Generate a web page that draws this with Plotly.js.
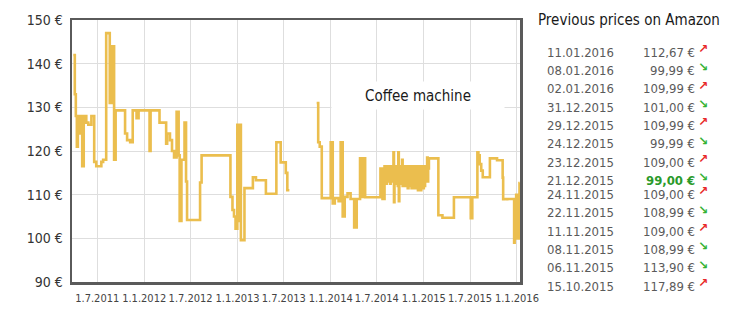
<!DOCTYPE html>
<html><head><meta charset="utf-8">
<script src="https://cdn.plot.ly/plotly-3.0.1.min.js"></script>
<style>html,body{margin:0;padding:0;background:#fff;}#chart{width:745px;height:313px;}</style>
</head><body><div id="chart"></div>
<script>
// Price history, part 1 (2011 - mid 2013)
const seg1Dates = [
 '2011-03-29','2011-04-04','2011-04-08','2011-04-12','2011-04-16','2011-04-22','2011-04-26','2011-05-03','2011-05-09','2011-05-19',
 '2011-05-27','2011-06-08','2011-06-19','2011-06-27','2011-07-17','2011-07-24','2011-08-05','2011-08-19','2011-08-29','2011-09-05',
 '2011-09-11','2011-10-18','2011-10-26','2011-11-07','2011-11-17','2011-12-02','2011-12-10','2012-01-22','2012-01-26','2012-03-01',
 '2012-03-27','2012-03-31','2012-04-11','2012-04-19','2012-04-27','2012-05-07','2012-05-15','2012-05-19','2012-05-26','2012-06-07',
 '2012-06-13','2012-06-17','2012-08-07','2012-08-13','2012-12-04','2012-12-12','2012-12-18','2012-12-24','2012-12-31','2013-01-06',
 '2013-01-10','2013-01-14','2013-01-28','2013-03-02','2013-03-14','2013-04-22','2013-06-02','2013-06-19','2013-07-09','2013-07-15',
 '2013-07-23'
];
const seg1Values = [
 142,133,128,121,128,124,128,116.5,128,126.5,
 126,128,117.5,116.5,117.5,118,147,131,144,118,
 129.3,124,122.5,122,129.3,127.5,129.3,120,129.3,126.5,
 121.7,124,122.5,120,118.5,129,119,104,118,126.5,
 113,104.2,112.8,119,109.5,106.5,105,102.2,126,104,
 126,99.6,111.5,114,113.3,110.2,122,117.4,115,111,
 111
];
// Part 2 (after the data gap, late 2013 - Jul 2014)
const seg2Dates = [
 '2013-11-07','2013-11-13','2013-11-19','2013-11-27','2014-01-01','2014-01-09','2014-01-17','2014-02-01','2014-02-09','2014-02-17',
 '2014-02-25','2014-03-08','2014-03-20','2014-04-03','2014-04-13','2014-04-26','2014-05-02','2014-05-08','2014-05-16','2014-07-15',
 '2014-07-23','2014-07-31'
];
const seg2Values = [
 131,122,121,109.2,122,108,109.2,108.5,122,105,
 109.5,110.3,109,102.5,109,118.3,109.5,118.3,109.4,116,
 109,116.5
];
// Part 3 (dense fluctuation, Aug 2014 - Jan 2015)
const seg3Dates = [
 '2014-08-02','2014-08-04','2014-08-07','2014-08-09','2014-08-12','2014-08-14','2014-08-17','2014-08-19','2014-08-22','2014-08-24',
 '2014-08-27','2014-08-29','2014-09-01','2014-09-04','2014-09-06','2014-09-08','2014-09-11','2014-09-13','2014-09-16','2014-09-18',
 '2014-09-21','2014-09-23','2014-09-25','2014-09-27','2014-09-30','2014-10-02','2014-10-05','2014-10-08','2014-10-10','2014-10-13',
 '2014-10-15','2014-10-18','2014-10-20','2014-10-23','2014-10-25','2014-10-28','2014-10-30','2014-11-02','2014-11-04','2014-11-07',
 '2014-11-09','2014-11-12','2014-11-14','2014-11-17','2014-11-19','2014-11-22','2014-11-24','2014-11-27','2014-11-29','2014-12-02',
 '2014-12-04','2014-12-07','2014-12-09','2014-12-12','2014-12-14','2014-12-17','2014-12-19','2014-12-22','2014-12-24','2014-12-27',
 '2014-12-29','2015-01-01','2015-01-03','2015-01-06','2015-01-08','2015-01-11','2015-01-14','2015-01-16','2015-01-18'
];
const seg3Values = [
 113.5,116.5,112.5,116,113,116.5,113.5,116,112.5,116.5,
 113,116,113.5,119.7,108.3,116.5,112.5,116,113,116.5,
 112,119.7,108.5,116,112.5,116.5,113,118,112,116.5,
 112.5,116,112,116.5,113,116,111.5,116.5,112,116,
 112.5,116.5,111.5,116,112,116.5,111.5,116,112,116.5,
 111.5,116,111,116.5,111.5,116,111,116.5,112,116,
 111.5,116.5,112,116,113,116.5,118.5,113,116
];
// Part 4 (2015 - Jan 2016)
const seg4Dates = [
 '2015-01-21','2015-02-27','2015-03-15','2015-04-29','2015-07-04','2015-07-10','2015-07-30','2015-08-03','2015-08-08','2015-08-14',
 '2015-08-20','2015-09-17','2015-10-15','2015-11-06','2015-11-08','2015-11-11','2015-11-22','2015-11-24','2015-12-21','2015-12-23',
 '2015-12-24','2015-12-29','2015-12-31','2016-01-02','2016-01-08','2016-01-11','2016-01-12'
];
const seg4Values = [
 118.3,105.3,104.7,109.4,104.6,109.4,119.7,119,117,115.5,
 114,118.3,117.89,113.90,108.99,109.00,108.99,109.00,99.00,109.00,
 99.99,109.99,101.00,109.99,99.99,112.67,112.67
];

// Axis ticks
const xTickVals = ['2011-07-01','2012-01-01','2012-07-01','2013-01-01','2013-07-01','2014-01-01','2014-07-01','2015-01-01','2015-07-01','2016-01-01'];
const xTickText = ['1.7.2011','1.1.2012','1.7.2012','1.1.2013','1.7.2013','1.1.2014','1.7.2014','1.1.2015','1.7.2015','1.1.2016'];
const yTickVals = [90,100,110,120,130,140,150];
const yTickText = ['90 €','100 €','110 €','120 €','130 €','140 €','150 €'];

// Side table
const tableTitle = 'Previous prices on Amazon';
const chartLabel = 'Coffee machine';
const tableDates = ['11.01.2016','08.01.2016','02.01.2016','31.12.2015','29.12.2015','24.12.2015','23.12.2015','21.12.2015','24.11.2015','22.11.2015','11.11.2015','08.11.2015','06.11.2015','15.10.2015'];
const tablePrices = [112.67,99.99,109.99,101.00,109.99,99.99,109.00,99.00,109.00,108.99,109.00,108.99,113.90,117.89];
const tableTrend = ['up','down','up','down','up','down','up','down','up','down','up','down','down','up'];

const FONT = '"DejaVu Sans Condensed", "Liberation Sans Narrow", "DejaVu Sans", sans-serif';
const L = 72, R = 520, T = 20, B = 282;
const px2x = p => (p - L) / (R - L);
const px2y = p => (B - p) / (B - T);

const lowIdx = tablePrices.indexOf(Math.min(...tablePrices));
const annotations = [];
annotations.push({xref:'paper', yref:'paper', x:px2x(418), y:px2y(95.5), xanchor:'center', yanchor:'middle',
  text:chartLabel, showarrow:false, bgcolor:'#ffffff', width:170, height:25,
  font:{family:FONT, size:15, color:'#1a1a1a'}});
annotations.push({xref:'paper', yref:'paper', x:px2x(536), y:px2y(20), xanchor:'left', yanchor:'middle',
  text:tableTitle, showarrow:false, font:{family:FONT, size:15, color:'#1a1a1a'}});
tableDates.forEach((d, i) => {
  const yy = 52 + i * 18.35 - (i > 7 ? 4.5 : 0);
  const hi = i === lowIdx;
  annotations.push({xref:'paper', yref:'paper', x:px2x(545), y:px2y(yy), xanchor:'left', yanchor:'middle',
    text:d, showarrow:false, font:{family:FONT, size:13, color:'#5a5a5a'}});
  const pt = tablePrices[i].toFixed(2).replace('.', ',') + ' €';
  annotations.push({xref:'paper', yref:'paper', x:px2x(697), y:px2y(yy), xanchor:'right', yanchor:'middle',
    text: hi ? '<b>' + pt + '</b>' : pt, showarrow:false,
    font:{family:FONT, size:13, color: hi ? '#2a9a2a' : '#5a5a5a'}});
  const up = tableTrend[i] === 'up';
  annotations.push({xref:'paper', yref:'paper', x:px2x(696), y:px2y(yy - 3), xanchor:'left', yanchor:'middle',
    text:'<b>' + (up ? '↗' : '↘') + '</b>', showarrow:false,
    font:{family:'DejaVu Sans, sans-serif', size:12, color: up ? '#e8282a' : '#33b233'}});
});

const xs = seg1Dates.concat(['2013-07-24'], seg2Dates, seg3Dates, seg4Dates);
const ys = seg1Values.concat([null], seg2Values, seg3Values, seg4Values);

const trace = {
  x: xs, y: ys, type:'scatter', mode:'lines',
  line:{shape:'hv', color:'#EBBE4E', width:2.6}, connectgaps:false, hoverinfo:'x+y'
};

const layout = {
  width:745, height:313,
  margin:{l:L, r:745 - R, t:T, b:313 - B, pad:0},
  paper_bgcolor:'#ffffff', plot_bgcolor:'#ffffff',
  showlegend:false,
  xaxis:{type:'date', range:['2011-03-24','2016-01-13'], tickvals:xTickVals, ticktext:xTickText,
    showgrid:true, gridcolor:'#dedede', gridwidth:1, zeroline:false,
    showline:true, linecolor:'#5a5a5a', linewidth:2.5, mirror:true, ticks:'',
    tickfont:{family:FONT, size:11, color:'#444'}, ticklabelstandoff:4},
  yaxis:{range:[90,150], tickvals:yTickVals, ticktext:yTickText,
    showgrid:true, gridcolor:'#dedede', gridwidth:1, zeroline:false,
    showline:true, linecolor:'#5a5a5a', linewidth:2.5, mirror:true, ticks:'',
    tickfont:{family:FONT, size:14, color:'#333'}, ticklabelstandoff:4},
  annotations: annotations
};

Plotly.newPlot('chart', [trace], layout, {displayModeBar:false, staticPlot:true});
</script>
</body></html>
